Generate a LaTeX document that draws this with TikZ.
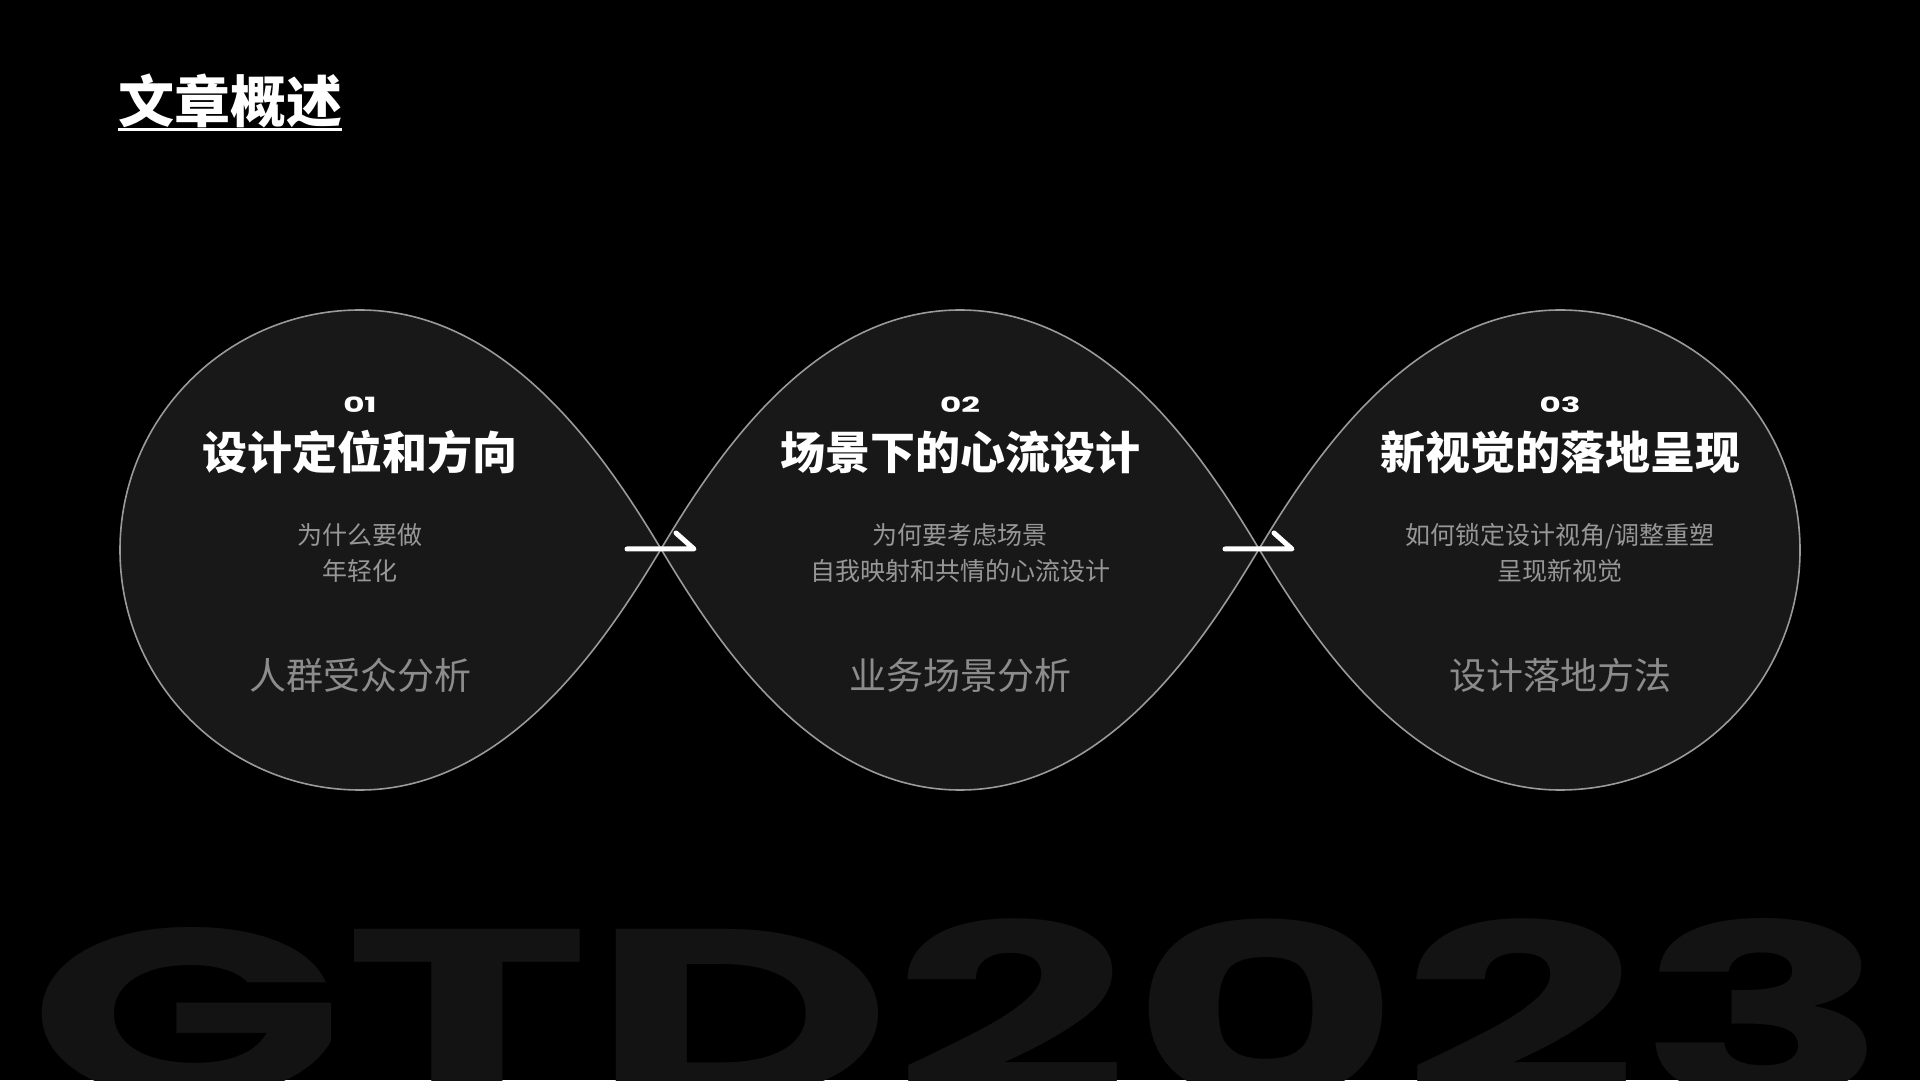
\documentclass[tikz,border=0pt]{standalone}
\usepackage{fontspec}
\usepackage{graphicx}
\newfontfamily\cjk{Noto Sans CJK SC}
\newfontfamily\numfont{Poppins}
\definecolor{lobefill}{HTML}{181818}
\definecolor{lobeline}{HTML}{9A9A9A}
\definecolor{subgray}{HTML}{979797}
\definecolor{footgray}{HTML}{8C8C8C}
\definecolor{bigtext}{HTML}{131313}
\begin{document}
\begin{tikzpicture}[x=1pt, y=1pt, every node/.style={inner sep=0pt, text=white},
  lobe/.style={fill=lobefill, draw=lobeline, line width=1.6pt},
  harpoon/.style={draw=white, line width=5pt, line cap=round, line join=round},
  numtext/.style={anchor=base, xscale=1.55, font=\numfont\bfseries\fontsize{21}{21}\selectfont},
  headtext/.style={anchor=base, font=\cjk\bfseries\fontsize{45}{45}\selectfont},
  subtext/.style={anchor=base, text=subgray, font=\cjk\fontsize{25}{25}\selectfont},
  foottext/.style={anchor=base, text=footgray, font=\cjk\fontsize{37}{37}\selectfont}]
\useasboundingbox (0,0) rectangle (1920,1080);
\clip (0,0) rectangle (1920,1080);
\fill[black] (0,0) rectangle (1920,1080);
% watermark
\node[anchor=base west, text=bigtext] (watermark) at (28,-18) {\resizebox{1860pt}{180pt}{\numfont\bfseries GTD2023}};
% title
\node[anchor=base, font=\cjk\bfseries\fontsize{56}{56}\selectfont] (title) at (230,957) {文章概述};
\draw[white, line width=3pt] ([yshift=-7pt]title.base west) -- ([yshift=-7pt]title.base east);
% three lobes
\coordinate (tip1) at (661,531);
\coordinate (tip2) at (1259,531);
\draw[lobe] (360,770) arc[start angle=90, end angle=270, radius=240]
  .. controls (510,290) and (609.5,445.3) .. (tip1)
  .. controls (609.5,616.7) and (510,770) .. (360,770) -- cycle;
\draw[lobe] (tip1) .. controls (712.5,616.7) and (810,770) .. (960,770)
  .. controls (1110,770) and (1207.5,616.7) .. (tip2)
  .. controls (1207.5,445.3) and (1110,290) .. (960,290)
  .. controls (810,290) and (712.5,445.3) .. (tip1) -- cycle;
\draw[lobe] (1560,770) arc[start angle=90, end angle=-90, radius=240]
  .. controls (1410,290) and (1310.5,445.3) .. (tip2)
  .. controls (1310.5,616.7) and (1410,770) .. (1560,770) -- cycle;
\draw[harpoon] ([xshift=-34pt]tip1) -- ([xshift=33pt]tip1) -- ++(-18,16);
\draw[harpoon] ([xshift=-34pt]tip2) -- ([xshift=33pt]tip2) -- ++(-18,16);
% lobe texts
\foreach \cx/\num/\head/\subA/\subB/\foot [count=\i] in {
  360/01/设计定位和方向/为什么要做/年轻化/人群受众分析,
  960/02/场景下的心流设计/为何要考虑场景/自我映射和共情的心流设计/业务场景分析,
  1560/03/新视觉的落地呈现/{如何锁定设计视角/调整重塑}/呈现新视觉/设计落地方法} {
  \node[numtext] (num\i) at (\cx,667) {\num};
  \node[headtext] (head\i) at (\cx,610) {\head};
  \node[subtext] (suba\i) at (\cx,535) {\subA};
  \node[subtext] (subb\i) at (\cx,499) {\subB};
  \node[foottext] (foot\i) at (\cx,390) {\foot};
}
\end{tikzpicture}
\end{document}
